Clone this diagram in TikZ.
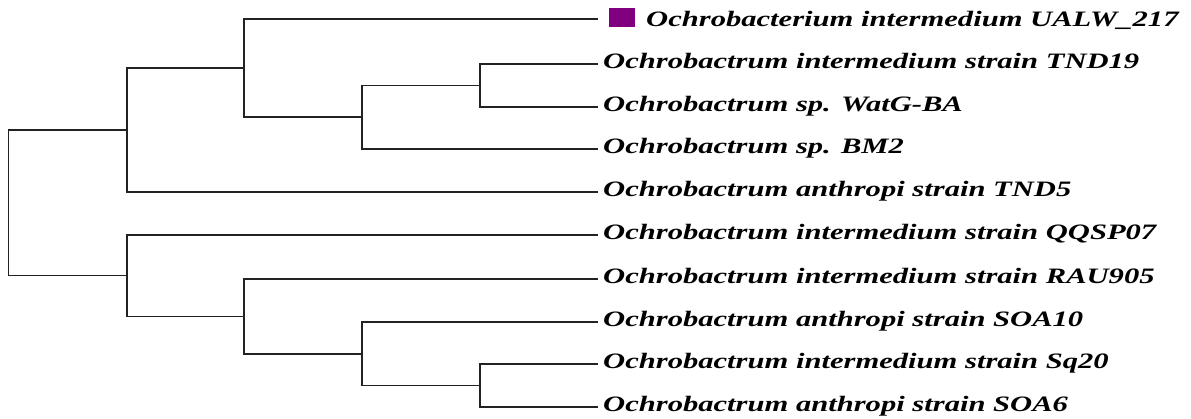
\documentclass[tikz,border=0pt]{standalone}
\usepackage{fontspec}
\setmainfont{Liberation Serif}
\usepackage{graphicx}
\newcommand\widetext[1]{\scalebox{1.39}[1]{#1}}
\definecolor{markpurple}{RGB}{128,0,128}
\definecolor{branchgray}{RGB}{34,34,34}
\begin{document}
\begin{tikzpicture}[x=1pt,y=-1pt,
  branch/.style={line width=1.6pt, draw=branchgray},
  taxon/.style={anchor=base west, inner sep=0pt, text=black,
    font=\fontsize{22}{24}\selectfont\bfseries\itshape},
  marker/.style={fill=markpurple, draw=none, minimum width=26pt, minimum height=19pt, inner sep=0pt}]
\useasboundingbox (0,0) rectangle (1191,419);
% leaf ends
\coordinate (t1) at (598,19);
\coordinate (t2) at (598,64);
\coordinate (t3) at (598,107);
\coordinate (t4) at (598,149);
\coordinate (t5) at (598,192);
\coordinate (t6) at (598,235);
\coordinate (t7) at (598,279);
\coordinate (t8) at (598,322);
\coordinate (t9) at (598,364);
\coordinate (t10) at (598,407);
% internal nodes
\coordinate (D) at (480,85.5);
\coordinate (C) at (362,117.25);
\coordinate (B) at (244,68.1);
\coordinate (A) at (127,130);
\coordinate (H) at (480,385.5);
\coordinate (G) at (362,353.75);
\coordinate (F) at (244,316.4);
\coordinate (E) at (127,275.7);
\coordinate (R) at (8.5,202.85);
% branches
\draw[branch] (D) |- (t2);
\draw[branch] (D) |- (t3);
\draw[branch] (C) |- (D);
\draw[branch] (C) |- (t4);
\draw[branch] (B) |- (t1);
\draw[branch] (B) |- (C);
\draw[branch] (A) |- (B);
\draw[branch] (A) |- (t5);
\draw[branch] (H) |- (t9);
\draw[branch] (H) |- (t10);
\draw[branch] (G) |- (t8);
\draw[branch] (G) |- (H);
\draw[branch] (F) |- (t7);
\draw[branch] (F) |- (G);
\draw[branch] (E) |- (t6);
\draw[branch] (E) |- (F);
\draw[branch] (R) |- (A);
\draw[branch] (R) |- (E);
% labels
\node[marker] (sq) at (622,17.5) {};
\node[taxon] (n1) at (646,26.5) {\widetext{Ochrobacterium intermedium UALW\_217}};
\node[taxon] (n2) at (603,68.5) {\widetext{Ochrobactrum intermedium strain TND19}};
\node[taxon] (n3) at (603,111.5) {\widetext{Ochrobactrum sp. WatG-BA}};
\node[taxon] (n4) at (603,153.5) {\widetext{Ochrobactrum sp. BM2}};
\node[taxon] (n5) at (603,196.5) {\widetext{Ochrobactrum anthropi strain TND5}};
\node[taxon] (n6) at (603,239.5) {\widetext{Ochrobactrum intermedium strain QQSP07}};
\node[taxon] (n7) at (603,283.5) {\widetext{Ochrobactrum intermedium strain RAU905}};
\node[taxon] (n8) at (603,326.5) {\widetext{Ochrobactrum anthropi strain SOA10}};
\node[taxon] (n9) at (603,368.5) {\widetext{Ochrobactrum intermedium strain Sq20}};
\node[taxon] (n10) at (603,411.5) {\widetext{Ochrobactrum anthropi strain SOA6}};
\end{tikzpicture}
\end{document}
